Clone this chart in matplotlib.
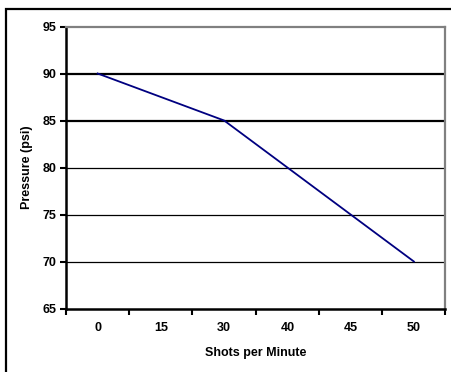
import matplotlib.pyplot as plt
import matplotlib.patches as mpatches
import numpy as np

plt.rcParams['font.family'] = ['Liberation Sans', 'DejaVu Sans']

shots = ['0', '15', '30', '40', '45', '50']
pressure = [90, 87.5, 85, 80, 75, 70]
yticks = [65, 70, 75, 80, 85, 90, 95]

W, H = 452, 372
fig = plt.figure(figsize=(W / 100, H / 100), dpi=100)

# outer frame (runs off the right and bottom edges)
fig.patches.append(mpatches.Rectangle((6 / W, -0.05), 1.1, 1 - 9 / H + 0.05,
                                      transform=fig.transFigure, fill=False,
                                      edgecolor='black', linewidth=1.6))

ax = fig.add_axes([66 / W, 1 - 308.5 / H, (445.5 - 66) / W, (308.5 - 26.5) / H])

x = np.arange(len(shots))
for v in yticks[1:-1]:
    ax.axhline(v, color='black', lw=1.6 if v in (85, 90) else 0.9, zorder=1)
ax.plot(x, pressure, color='#000080', lw=1.3, zorder=3)

ax.set_xlim(-0.5, len(shots) - 0.5)
ax.set_ylim(65, 95)
ax.set_yticks(yticks)
ax.set_xticks(x)
ax.set_xticklabels(shots)
ax.set_xticks(np.arange(-0.5, len(shots)), minor=True)
ax.tick_params(axis='x', which='major', length=0, pad=10)
ax.tick_params(axis='x', which='minor', length=4, width=1.5, direction='out', color='black')
ax.tick_params(axis='y', length=4, width=1.5, direction='out', pad=3)
for lab in ax.get_xticklabels() + ax.get_yticklabels():
    lab.set_fontsize(9)
    lab.set_fontweight('bold')

for s in ('left', 'bottom'):
    ax.spines[s].set_linewidth(1.8)
    ax.spines[s].set_color('black')
for s in ('top', 'right'):
    ax.spines[s].set_linewidth(1.6)
    ax.spines[s].set_color('#808080')

ax.set_xlabel('Shots per Minute', fontsize=9, fontweight='bold', labelpad=9)
ax.set_ylabel('Pressure (psi)', fontsize=9, fontweight='bold', labelpad=7)

fig.savefig('out.png', dpi=100)
